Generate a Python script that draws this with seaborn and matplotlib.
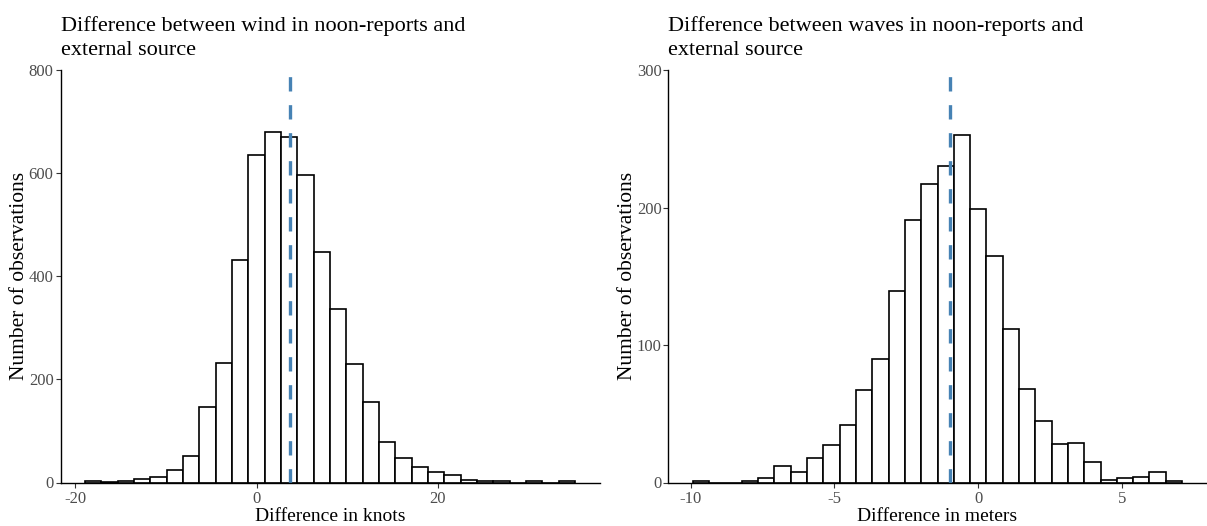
import numpy as np
import pandas as pd
import matplotlib
matplotlib.use("Agg")
import matplotlib.pyplot as plt
import seaborn as sns

# ---- data ----
wind_bin_centers = [-18.0, -16.2, -14.4, -12.6, -10.8, -9.0, -7.2, -5.4, -3.6, -1.8,
                    0.0, 1.8, 3.6, 5.4, 7.2, 9.0, 10.8, 12.6, 14.4, 16.2,
                    18.0, 19.8, 21.6, 23.4, 25.2, 27.0, 28.8, 30.6, 32.4, 34.2]
wind_counts = [2, 1, 3, 6, 10, 25, 52, 146, 232, 432,
               635, 679, 670, 596, 448, 337, 229, 156, 79, 47,
               30, 21, 14, 4, 3, 3, 0, 2, 0, 2]
wind_mean = 3.7

wave_bin_centers = [-9.639, -9.072, -8.505, -7.938, -7.371, -6.804, -6.237, -5.670, -5.103, -4.536,
                    -3.969, -3.402, -2.835, -2.268, -1.701, -1.134, -0.567, 0.0, 0.567, 1.134,
                    1.701, 2.268, 2.835, 3.402, 3.969, 4.536, 5.103, 5.670, 6.237, 6.804]
wave_counts = [1, 0, 0, 1, 3, 12, 8, 18, 27, 42,
               67, 90, 139, 191, 217, 230, 253, 199, 165, 112,
               68, 45, 28, 29, 15, 2, 3, 4, 8, 1]
wave_mean = -1.0

titles = ["Difference between wind in noon-reports and\nexternal source",
          "Difference between waves in noon-reports and\nexternal source"]
xlabels = ["Difference in knots", "Difference in meters"]
ylabel = "Number of observations"
xticks_list = [[-20, 0, 20], [-10, -5, 0, 5]]
yticks_list = [[0, 200, 400, 600, 800], [0, 100, 200, 300]]
ylims = [800, 300]

# ---- style ----
sns.set_style("ticks")
plt.rcParams["font.family"] = ["Liberation Serif", "DejaVu Serif"]
plt.rcParams["lines.scale_dashes"] = True

W, H = 1207, 526
fig = plt.figure(figsize=(W / 100, H / 100), dpi=100)

panel_rects = [
    (60.5 / W, (H - 482.5) / H, (599.5 - 60.5) / W, (482.5 - 70) / H),
    (668.5 / W, (H - 482.5) / H, (1206.5 - 668.5) / W, (482.5 - 70) / H),
]

datasets = [(wind_bin_centers, wind_counts, wind_mean),
            (wave_bin_centers, wave_counts, wave_mean)]

for i, (centers, counts, mean) in enumerate(datasets):
    ax = fig.add_axes(panel_rects[i])
    c = np.asarray(centers, dtype=float)
    w = float(np.mean(np.diff(c)))
    edges = list(np.append(c - w / 2, c[-1] + w / 2))
    df = pd.DataFrame({"x": c, "n": np.asarray(counts, dtype=float)})
    sns.histplot(data=df, x="x", weights="n", bins=edges, stat="count", ax=ax,
                 color="white", edgecolor="black", linewidth=1.2, alpha=1.0)
    ax.axvline(mean, color="#4682B4", linewidth=2.4, linestyle=(0, (4.3, 4.1)))

    span = edges[-1] - edges[0]
    ax.set_xlim(edges[0] - 0.05 * span, edges[-1] + 0.05 * span)
    ax.set_ylim(0, ylims[i])
    ax.set_xticks(xticks_list[i])
    ax.set_yticks(yticks_list[i])
    ax.set_xticklabels([str(t) for t in xticks_list[i]])

    for s in ["top", "right"]:
        ax.spines[s].set_visible(False)
    for s in ["left", "bottom"]:
        ax.spines[s].set_linewidth(1.0)
        ax.spines[s].set_color("black")
    ax.tick_params(axis="both", length=3.5, width=0.8, color="#333333",
                   labelcolor="#4D4D4D", labelsize=12, pad=1.5)
    ax.tick_params(axis="x", pad=2.5)

    ax.set_xlabel(xlabels[i], fontsize=14, color="black", labelpad=1)
    ax.set_ylabel(ylabel, fontsize=15.5, color="black", labelpad=0)
    ax.set_title(titles[i], loc="left", fontsize=16, color="black", pad=10.5,
                 linespacing=1.36)

fig.savefig("out.png", dpi=100)
